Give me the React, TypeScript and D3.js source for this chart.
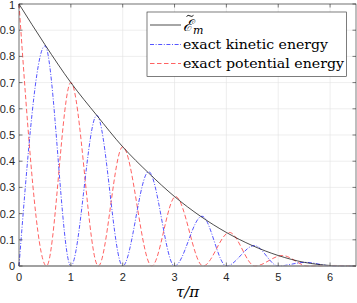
import * as d3 from "d3";

// values (x in units of tau/pi)
const envelopeX = [0, 0.5, 1, 1.5, 2, 2.5, 3, 3.5, 4, 4.5, 5, 5.5, 6, 6.2, 6.5];
const envelopeY = [1, 0.845, 0.7, 0.575, 0.455, 0.355, 0.265, 0.19, 0.128, 0.078, 0.04, 0.014, 0.002, 0, 0];

const kineticX = [0, 0.5, 1, 1.5, 2, 2.5, 3, 3.53, 4, 4.54, 5.0, 5.52, 6.05, 6.5];
const kineticY = [0, 0.84, 0, 0.575, 0, 0.36, 0, 0.19, 0, 0.078, 0, 0.014, 0, 0];

const potentialX = [0, 0.53, 1, 1.53, 2, 2.56, 3.02, 3.55, 4.06, 4.55, 5.08, 5.57, 6.1, 6.5];
const potentialY = [1, 0, 0.7, 0, 0.455, 0, 0.265, 0, 0.128, 0, 0.04, 0, 0.002, 0];

const xTicks = [0, 1, 2, 3, 4, 5, 6];
const yTicks = [0, 0.1, 0.2, 0.3, 0.4, 0.5, 0.6, 0.7, 0.8, 0.9, 1];

const legendLabels = ["exact kinetic energy", "exact potential energy"];

const W = 357;
const H = 303;
const margin = { left: 19, right: 1, top: 4, bottom: 37 };

export default function App() {
  const x = d3.scaleLinear().domain([0, 6.5]).range([margin.left, W - margin.right]);
  const y = d3.scaleLinear().domain([0, 1]).range([H - margin.bottom, margin.top]);

  const pts = (xs: number[], ys: number[]) => xs.map((v, i) => [v, ys[i]] as [number, number]);
  const line = d3
    .line<[number, number]>()
    .x((d) => x(d[0]))
    .y((d) => y(d[1]))
    .curve(d3.curveMonotoneX);

  const axisColor = "#262626";
  const x0 = x(0);
  const x1 = x(6.5);
  const y0 = y(0);
  const y1 = y(1);

  const lx = 147;
  const ly = 12;

  return (
    <svg width={W} height={H} style={{ position: "absolute", left: 0, top: 0, background: "#fff" }}>
      {/* grid */}
      <g stroke="#e3e3e3" strokeWidth={0.6}>
        {xTicks.map((t) => (
          <line key={"gx" + t} x1={x(t)} x2={x(t)} y1={y0} y2={y1} />
        ))}
        {yTicks.map((t) => (
          <line key={"gy" + t} x1={x0} x2={x1} y1={y(t)} y2={y(t)} />
        ))}
      </g>

      {/* curves */}
      <path d={line(pts(potentialX, potentialY)) || ""} fill="none" stroke="#ff3a3a" strokeWidth={0.8} strokeDasharray="4.5,2.5" />
      <path d={line(pts(kineticX, kineticY)) || ""} fill="none" stroke="#2a2aff" strokeWidth={0.8} strokeDasharray="4,1.6,1,1.6" />
      <path d={line(pts(envelopeX, envelopeY)) || ""} fill="none" stroke="#000" strokeWidth={0.7} />

      {/* frame and ticks */}
      <rect x={x0} y={y1} width={x1 - x0} height={y0 - y1} fill="none" stroke={axisColor} strokeWidth={0.6} />
      <line x1={x0} x2={x1} y1={y0} y2={y0} stroke="#9a9a9a" strokeWidth={1.6} />
      <g stroke={axisColor} strokeWidth={0.6}>
        {xTicks.map((t) => (
          <g key={"tx" + t}>
            <line x1={x(t)} x2={x(t)} y1={y0} y2={y0 - 3.5} />
            <line x1={x(t)} x2={x(t)} y1={y1} y2={y1 + 3.5} />
          </g>
        ))}
        {yTicks.map((t) => (
          <g key={"ty" + t}>
            <line x1={x0} x2={x0 + 3.5} y1={y(t)} y2={y(t)} />
            <line x1={x1} x2={x1 - 3.5} y1={y(t)} y2={y(t)} />
          </g>
        ))}
      </g>

      {/* tick labels */}
      <g fontFamily="Liberation Sans, Arial, sans-serif" fontSize={11} fill={axisColor}>
        {xTicks.map((t) => (
          <text key={"lx" + t} x={x(t)} y={y0 + 15} textAnchor="middle">
            {t}
          </text>
        ))}
        {yTicks.map((t) => (
          <text key={"ly" + t} x={15} y={Math.max(y(t) + 4, 9)} textAnchor="end">
            {d3.format("~g")(t)}
          </text>
        ))}
      </g>

      {/* x label */}
      <text x={(x0 + x1) / 2} y={297} textAnchor="middle" fontFamily="DejaVu Serif, serif" fontStyle="italic" fontSize={15} fill="#000">
        τ/π
      </text>

      {/* legend */}
      <rect x={lx} y={ly} width={199.5} height={64.5} fill="#fff" stroke={axisColor} strokeWidth={0.6} />
      <line x1={150} x2={181} y1={25} y2={25} stroke="#000" strokeWidth={0.7} />
      <line x1={150} x2={181} y1={44.5} y2={44.5} stroke="#2a2aff" strokeWidth={0.8} strokeDasharray="4,1.6,1,1.6" />
      <line x1={150} x2={181} y1={63.5} y2={63.5} stroke="#ff3a3a" strokeWidth={0.8} strokeDasharray="4.5,2.5" />
      {/* tilde over the E */}
      <path d="M186.5,16.5 q1.5,-2 3.5,-0.6 q2,1.4 3.5,-0.6" fill="none" stroke="#000" strokeWidth={0.9} />
      <g fontFamily="DejaVu Serif, serif" fill="#000">
        <text x={183} y={31} fontSize={16} fontStyle="italic">
          ℰ<tspan fontSize={11} dy={3}>m</tspan>
        </text>
        <text x={183} y={49} fontSize={13} textLength={145} lengthAdjust="spacingAndGlyphs">
          {legendLabels[0]}
        </text>
        <text x={183} y={68} fontSize={13} textLength={161} lengthAdjust="spacingAndGlyphs">
          {legendLabels[1]}
        </text>
      </g>
    </svg>
  );
}
